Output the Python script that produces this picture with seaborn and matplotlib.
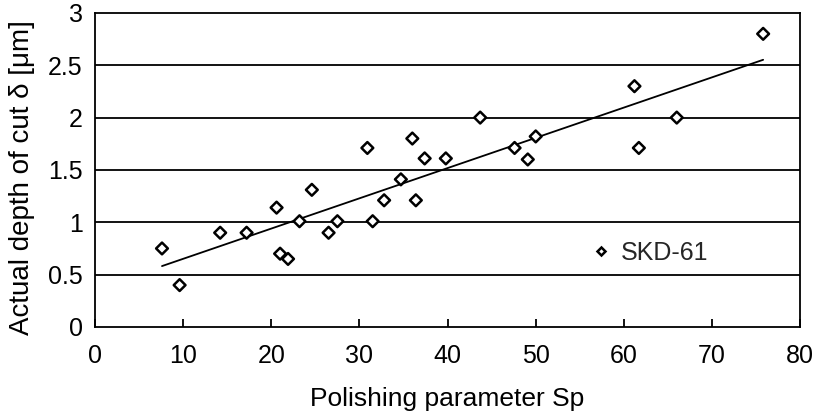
import numpy as np
import pandas as pd
import matplotlib
matplotlib.use("Agg")
import matplotlib.pyplot as plt
import seaborn as sns

# Data
sp_values = [7.6, 9.6, 14.2, 17.2, 20.6, 21.0, 21.9, 23.2, 24.6, 26.5, 27.5,
             30.9, 31.5, 32.8, 34.7, 36.0, 36.4, 37.4, 39.8, 43.7, 47.6,
             49.1, 50.0, 61.2, 61.7, 66.0, 75.8]
depth_values = [0.75, 0.40, 0.90, 0.90, 1.14, 0.70, 0.65, 1.01, 1.31, 0.90, 1.01,
                1.71, 1.01, 1.21, 1.41, 1.80, 1.21, 1.61, 1.61, 2.00, 1.71,
                1.60, 1.82, 2.30, 1.71, 2.00, 2.80]
series_name = "SKD-61"
x_ticks = [0, 10, 20, 30, 40, 50, 60, 70, 80]
y_ticks = [0, 0.5, 1, 1.5, 2, 2.5, 3]
y_tick_labels = ["0", "0.5", "1", "1.5", "2", "2.5", "3"]

df = pd.DataFrame({"Sp": sp_values, "depth": depth_values,
                   "material": [series_name] * len(sp_values)})

sns.set_theme(style="white")
plt.rcParams["font.family"] = ["Liberation Sans", "DejaVu Sans"]

fig = plt.figure(figsize=(8.19, 4.16), dpi=100)
ax = fig.add_axes([0.116, 0.214, 0.861, 0.755])

for y in y_ticks[1:-1]:
    ax.axhline(y, color="black", lw=1.3, zorder=0)

sns.regplot(data=df, x="Sp", y="depth", scatter=False, ci=None, ax=ax,
            color="black", line_kws={"lw": 1.3, "zorder": 1})
sns.scatterplot(data=df, x="Sp", y="depth", hue="material",
                palette=["white"], marker="D", s=36, edgecolor="black",
                linewidth=1.8, ax=ax, zorder=3)

ax.set_xlim(0, 80)
ax.set_ylim(0, 3)
ax.set_xticks(x_ticks)
ax.set_yticks(y_ticks)
ax.set_yticklabels(y_tick_labels)
ax.tick_params(axis="x", direction="in", length=6, width=1.3, pad=12,
               labelsize=18, colors="black", bottom=True)
ax.tick_params(axis="y", length=0, pad=9, labelsize=18, colors="black")
for s in ax.spines.values():
    s.set_color("black")
    s.set_linewidth(1.3)

ax.set_xlabel("Polishing parameter Sp", fontsize=19, labelpad=14, color="black")
ax.set_ylabel("Actual depth of cut δ [μm]", fontsize=20, color="black")
ax.yaxis.set_label_coords(-0.085, 0.475)

leg = ax.legend(loc="center left", bbox_to_anchor=(0.70, 0.235), frameon=False,
                fontsize=18, handlelength=1.0, handletextpad=0.3,
                markerscale=0.75, borderaxespad=0, borderpad=0)
for h in leg.legend_handles:
    try:
        h.set_markerfacecolor("white")
        h.set_markeredgecolor("black")
    except AttributeError:
        h.set_facecolor("white")
        h.set_edgecolor("black")

fig.savefig("out.png", dpi=100)
